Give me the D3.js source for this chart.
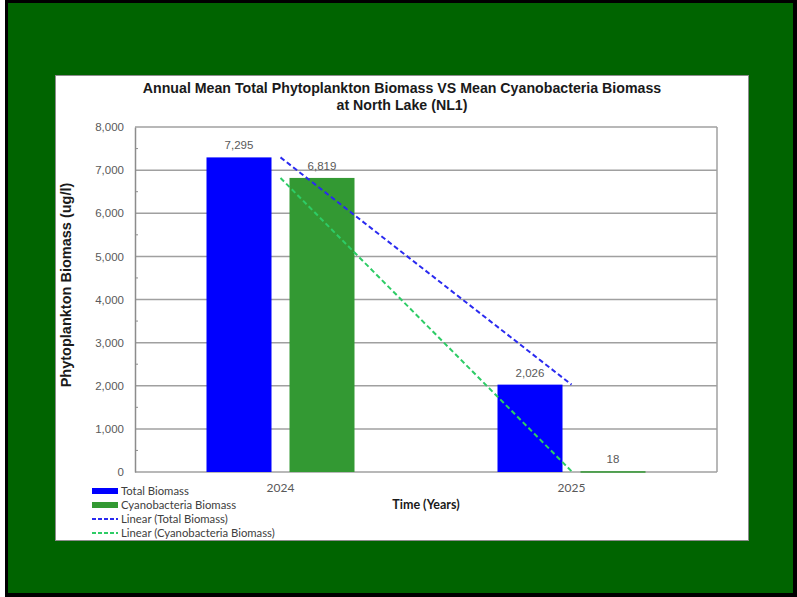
<!DOCTYPE html>
<html><head><meta charset="utf-8">
<script src="https://cdn.jsdelivr.net/npm/d3@7"></script>
<style>body{margin:0;background:#fff}svg{display:block}</style>
</head><body>
<svg id="c" width="797" height="597"></svg>
<script>
const years = ["2024", "2025"];
const seriesNames = ["Total Biomass", "Cyanobacteria Biomass"];
const totalBiomass = [7295, 2026];
const cyanoBiomass = [6819, 18];
const yTicks = [0, 1000, 2000, 3000, 4000, 5000, 6000, 7000, 8000];
const titleLines = ["Annual Mean Total Phytoplankton Biomass VS Mean Cyanobacteria Biomass", "at North Lake (NL1)"];

const svg = d3.select("#c");
// frame
svg.append("rect").attr("x",5).attr("y",0).attr("width",792).attr("height",597).attr("fill","#000");
svg.append("rect").attr("x",8).attr("y",3).attr("width",785).attr("height",590).attr("fill","#006400");
svg.append("rect").attr("x",55.5).attr("y",75.5).attr("width",693).attr("height",465).attr("fill","#fff").attr("stroke","#8c8c8c").attr("stroke-width",1);

const L=135, R=717, T=127, B=472;
const x = d3.scaleBand().domain(years).range([L,R]).paddingInner(0).paddingOuter(0);
const bw = x.bandwidth();
const xs = d3.scaleBand().domain(seriesNames).range([bw/2-74, bw/2+74]).paddingInner(0.2169).paddingOuter(0);
const y = d3.scaleLinear().domain([0,8000]).range([B,T]);

// gridlines
svg.append("g").selectAll("line").data(yTicks).join("line")
  .attr("x1",L).attr("x2",R).attr("y1",d=>y(d)).attr("y2",d=>y(d))
  .attr("stroke","#a0a0a0").attr("stroke-width",1.5);
// right frame
svg.append("line").attr("x1",R).attr("x2",R).attr("y1",T).attr("y2",B).attr("stroke","#a0a0a0").attr("stroke-width",1.5);
// y axis
const yAxis = d3.axisLeft(y).tickValues(yTicks).tickFormat(d3.format(",")).tickSize(0).tickPadding(11);
const gy = svg.append("g").attr("transform",`translate(${L},0)`).call(yAxis);
gy.select(".domain").attr("stroke","#8c8c8c").attr("stroke-width",1.5);
gy.selectAll("text").attr("font-family","Liberation Sans, Arial").attr("font-size",11.5).attr("fill","#595959");
// minor ticks
const minor = d3.range(500,8000,1000);
svg.append("g").selectAll("line").data(minor).join("line")
  .attr("x1",L).attr("x2",L+3).attr("y1",d=>y(d)).attr("y2",d=>y(d)).attr("stroke","#8c8c8c").attr("stroke-width",1);

// x axis labels
const xAxis = d3.axisBottom(x).tickSize(0).tickPadding(11);
const gx = svg.append("g").attr("transform",`translate(0,${B})`).call(xAxis);
gx.select(".domain").remove();
gx.selectAll("text").attr("font-family","Lato, sans-serif").attr("font-size",12).attr("fill","#595959");

const data = [
  {name: seriesNames[0], values: totalBiomass, color: "#0000ff", trend: "#2a2af0"},
  {name: seriesNames[1], values: cyanoBiomass, color: "#339933", trend: "#2ecc66"}
];

// bars
data.forEach(s => {
  const g = svg.append("g");
  g.selectAll("rect").data(years.map((yr,i)=>({yr, v:s.values[i]}))).join("rect")
    .attr("x", d => x(d.yr)+xs(s.name)).attr("width", xs.bandwidth())
    .attr("y", d => y(d.v)).attr("height", d => Math.max(1.5, B - y(d.v)))
    .attr("fill", s.color);
  g.selectAll("text").data(years.map((yr,i)=>({yr, v:s.values[i]}))).join("text")
    .attr("x", d => x(d.yr)+xs(s.name)+xs.bandwidth()/2).attr("y", d => y(d.v)-8)
    .attr("text-anchor","middle").attr("font-family","Liberation Sans, Arial").attr("font-size",11.5).attr("fill","#595959")
    .text(d => d3.format(",")(d.v));
});

// linear trendlines (least squares over category index)
data.forEach(s => {
  const n = s.values.length;
  const xi = d3.range(n);
  const mx = d3.mean(xi), my = d3.mean(s.values);
  const slope = d3.sum(xi.map((v,i)=>(v-mx)*(s.values[i]-my))) / d3.sum(xi.map(v=>(v-mx)**2));
  const icpt = my - slope*mx;
  const pts = xi.map(i => [x(years[i]) + bw/2, y(icpt + slope*i)]);
  svg.append("path").attr("d", d3.line()(pts)).attr("fill","none")
    .attr("stroke", s.trend).attr("stroke-width",2).attr("stroke-dasharray","5,3");
});

// title
svg.append("text").attr("x",402).attr("y",93).attr("text-anchor","middle")
  .attr("font-family","Liberation Sans, Arial").attr("font-weight","bold").attr("font-size",14.2).attr("fill","#1a1a1a")
  .selectAll("tspan").data(titleLines).join("tspan").attr("x",402).attr("dy",(d,i)=>i?17:0).text(d=>d);

// y title
svg.append("text").attr("transform","translate(71,285) rotate(-90)").attr("text-anchor","middle")
  .attr("font-family","Liberation Sans, Arial").attr("font-weight","bold").attr("font-size",14.5).attr("fill","#1a1a1a")
  .text("Phytoplankton Biomass (ug/l)");
// x title
svg.append("text").attr("x",426).attr("y",509).attr("text-anchor","middle")
  .attr("font-family","Lato, sans-serif").attr("font-weight","bold").attr("font-size",12.5).attr("fill","#1a1a1a")
  .text("Time (Years)");

// legend
const legendItems = [
  {label: seriesNames[0], color: "#0000ff", type: "bar"},
  {label: seriesNames[1], color: "#339933", type: "bar"},
  {label: "Linear (" + seriesNames[0] + ")", color: "#2a2af0", type: "line"},
  {label: "Linear (" + seriesNames[1] + ")", color: "#2ecc66", type: "line"}
];
const lg = svg.append("g").selectAll("g").data(legendItems).join("g")
  .attr("transform",(d,i)=>`translate(92,${491 + i*14})`);
lg.filter(d=>d.type==="bar").append("rect").attr("x",0).attr("y",-3).attr("width",26).attr("height",6).attr("fill",d=>d.color);
lg.filter(d=>d.type==="line").append("line").attr("x1",0).attr("x2",26).attr("y1",0).attr("y2",0)
  .attr("stroke",d=>d.color).attr("stroke-width",1.8).attr("stroke-dasharray","4,2");
lg.append("text").attr("x",29).attr("y",4).attr("font-family","Lato, sans-serif").attr("font-size",11.3).attr("fill","#404040").text(d=>d.label);
</script>
</body></html>
